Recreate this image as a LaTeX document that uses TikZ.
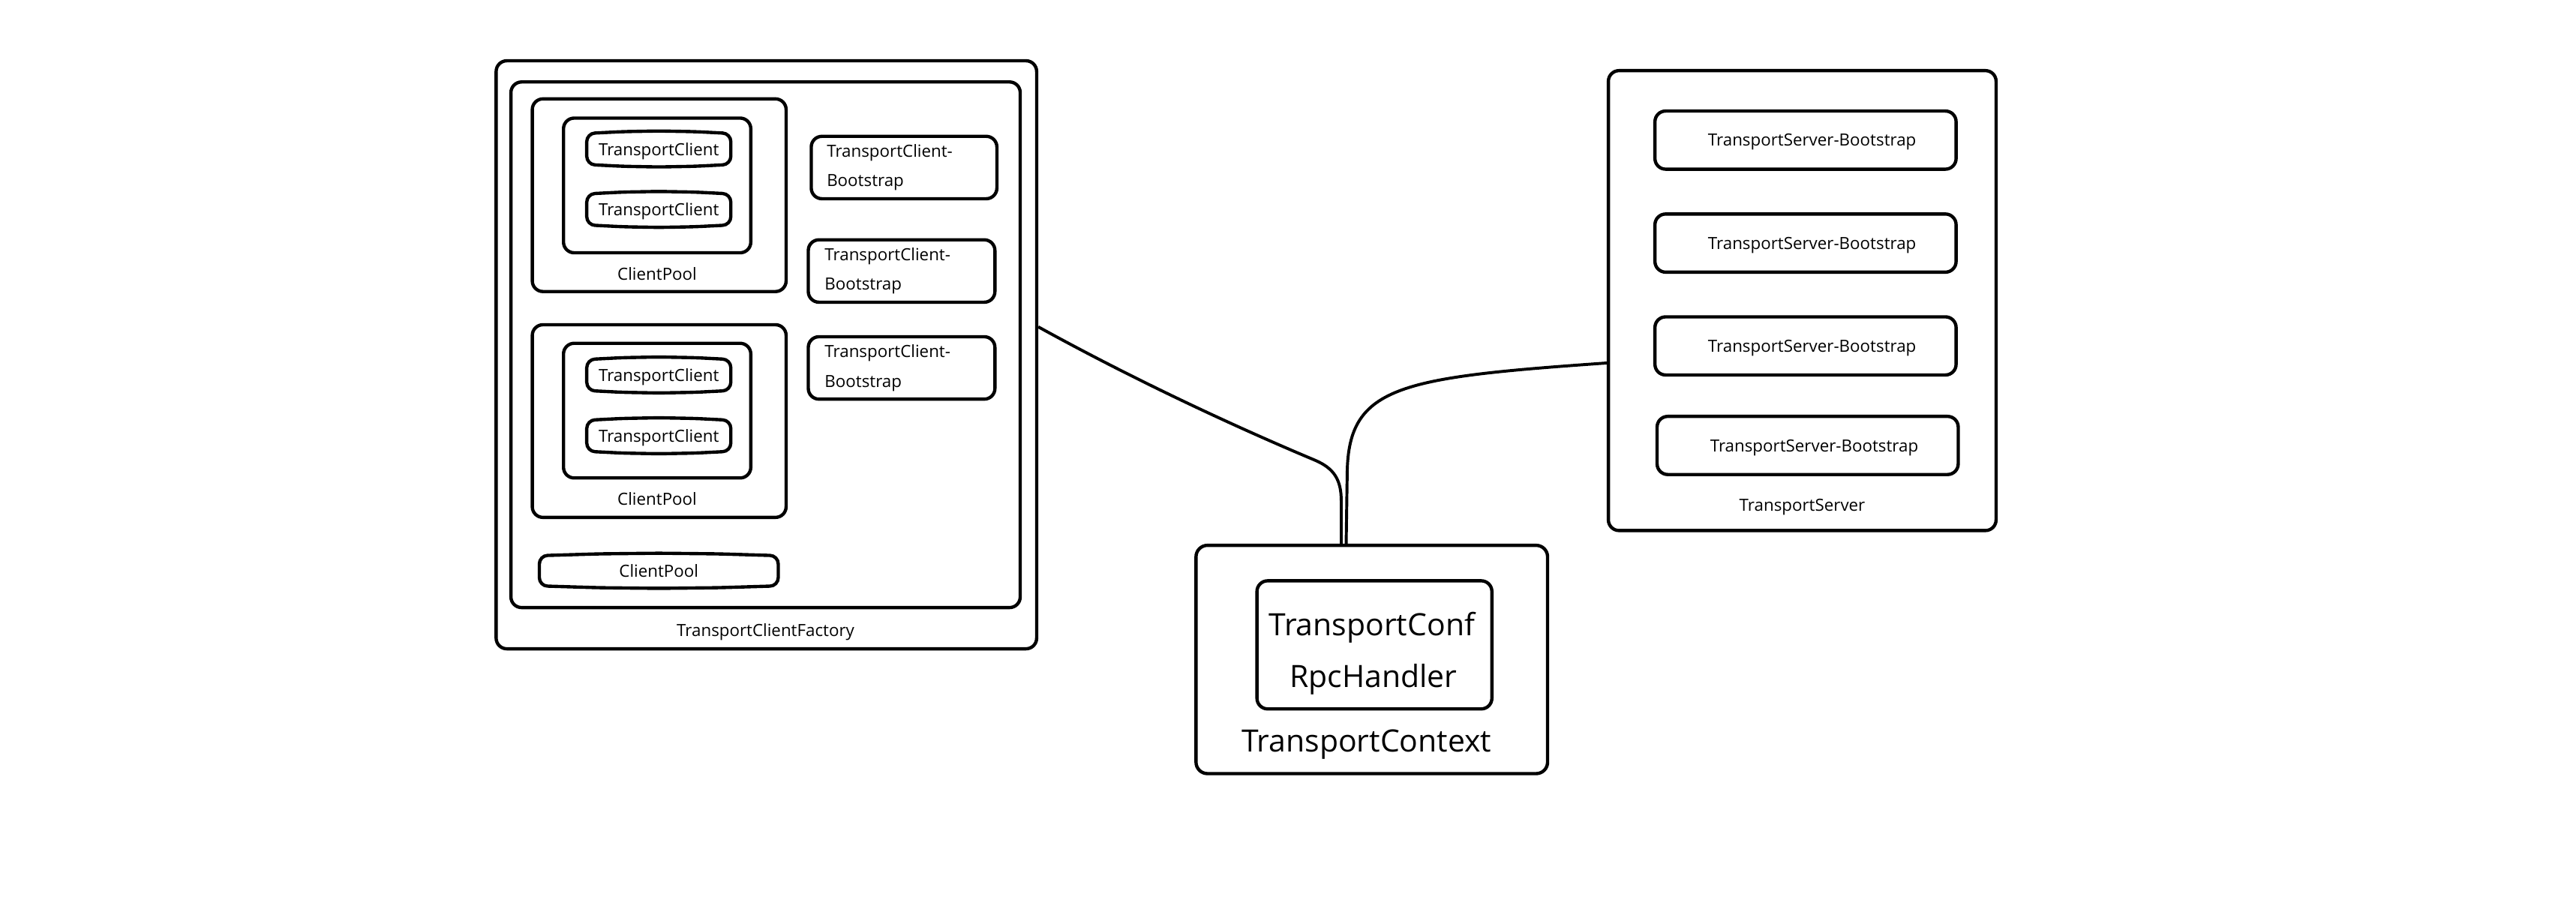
\documentclass[tikz,border=0pt]{standalone}
\usepackage{fontspec}
\setmainfont{Open Sans}
\usetikzlibrary{calc}

\newcommand{\smalltext}{\fontsize{10.2}{18}\selectfont}
\newcommand{\bigtext}{\fontsize{18.7}{31.6}\selectfont}
\tikzset{
  box/.style={draw, line width=2pt, rounded corners=6.5pt, inner sep=0pt},
  barrel/.style={inner sep=0pt, font=\smalltext, text depth=0pt},
  caption/.style={font=\smalltext, text depth=0pt},
  bigcaption/.style={font=\bigtext, text depth=0pt},
  wire/.style={line width=1.8pt},
}

\begin{document}
\begin{tikzpicture}[x=1pt,y=1pt,yscale=-1,xscale=1]
\useasboundingbox (0,0) rectangle (1568,553);

%Shape: Rectangle [TransportClientFactory]
\node [box, minimum width=329, minimum height=358] (factory) at (466.5,216) {};
\node [box, minimum width=310, minimum height=320] (clients) at (466,209.9) {};
% Text Node
\node [caption] (factorylabel) at (466,383.5) {TransportClientFactory};

%Shape: Rectangle [ClientPool 1]
\node [box, minimum width=154.5, minimum height=117.3] (pool1) at (401.25,118.85) {};
\node [box, minimum width=114, minimum height=82] (poolin1) at (400,112.9) {};
\node [barrel, minimum width=87.3, minimum height=18.5] (tc1) at (401,90.7) {TransportClient};
\node [barrel, minimum width=87.3, minimum height=18.5] (tc2) at (401,127.5) {TransportClient};
% Text Node
\node [caption] (poollabel1) at (400,166.5) {ClientPool};

%Shape: Rectangle [ClientPool 2]
\node [box, minimum width=154.5, minimum height=117.3] (pool2) at (401.25,256.35) {};
\node [box, minimum width=114, minimum height=82] (poolin2) at (400,250) {};
\node [barrel, minimum width=87.3, minimum height=18.5] (tc3) at (401,228.3) {TransportClient};
\node [barrel, minimum width=87.3, minimum height=18.5] (tc4) at (401,265.3) {TransportClient};
% Text Node
\node [caption] (poollabel2) at (400,303.5) {ClientPool};

%Shape: Barrel [ClientPool 3]
\node [barrel, minimum width=145, minimum height=18] (pool3) at (401,347.5) {ClientPool};

%Barrel outlines
\foreach \n in {tc1,tc2,tc3,tc4,pool3}
  \draw [line width=2pt, rounded corners=5pt] (\n.south west) -- (\n.north west)
    -- ($(\n.north west)!0.25!(\n.north east)+(0,-1.1)$) -- ($(\n.north)+(0,-1.5)$) -- ($(\n.north west)!0.75!(\n.north east)+(0,-1.1)$)
    -- (\n.north east) -- (\n.south east)
    -- ($(\n.south west)!0.75!(\n.south east)+(0,1.1)$) -- ($(\n.south)+(0,1.5)$) -- ($(\n.south west)!0.25!(\n.south east)+(0,1.1)$) -- cycle;

%Shape: Rectangle [TransportClient-Bootstrap]
\node [box, minimum width=113, minimum height=38, inner xsep=9.5pt, text width=94, align=left, font=\smalltext] (cboot1) at (550.3,102) {TransportClient-\\Bootstrap};
\node [box, minimum width=113.6, minimum height=38, inner xsep=10pt, text width=93.6, align=left, font=\smalltext] (cboot2) at (548.8,165) {TransportClient-\\Bootstrap};
\node [box, minimum width=113.6, minimum height=38, inner xsep=10pt, text width=93.6, align=left, font=\smalltext] (cboot3) at (548.8,224) {TransportClient-\\Bootstrap};

%Shape: Rectangle [TransportServer]
\node [box, minimum width=236, minimum height=280] (server) at (1097,183) {};
\node [box, minimum width=183.3, minimum height=35.4, font=\smalltext, text depth=0pt] (sboot1) at (1099,85.3) {\hspace*{8pt}TransportServer-Bootstrap};
\node [box, minimum width=183.3, minimum height=35.4, font=\smalltext, text depth=0pt] (sboot2) at (1099,148) {\hspace*{8pt}TransportServer-Bootstrap};
\node [box, minimum width=183.3, minimum height=35.4, font=\smalltext, text depth=0pt] (sboot3) at (1099,210.6) {\hspace*{8pt}TransportServer-Bootstrap};
\node [box, minimum width=183.3, minimum height=35.4, font=\smalltext, text depth=0pt] (sboot4) at (1100.3,271.2) {\hspace*{8pt}TransportServer-Bootstrap};
% Text Node
\node [caption] (serverlabel) at (1097,307.5) {TransportServer};

%Shape: Rectangle [TransportContext]
\node [box, rounded corners=7pt, minimum width=214, minimum height=139] (context) at (835,401.5) {};
\node [box, minimum width=143, minimum height=78] (conf) at (836.6,392.6) {};
% Text Node
\node [bigcaption] (conftext) at (835,380) {TransportConf};
% Text Node
\node [bigcaption] (rpctext) at (836,411.5) {RpcHandler};
% Text Node
\node [bigcaption] (contextlabel) at (831.8,451) {TransportContext};

%Curve Lines
\coordinate (cin1) at ($(context.north)+(-18.6,0)$);
\coordinate (cin2) at ($(context.north)+(-15.6,0)$);
\draw [wire] ($(factory.east)+(0,-17)$) .. controls (690,231) and (750,259) .. (800,280) .. controls (812,285) and (816.4,292) .. (816.4,305) -- (cin1);
\draw [wire] ($(server.west)+(0,38)$) .. controls (850,230) and (820,235) .. (820,290) -- (cin2);

\end{tikzpicture}
\end{document}
